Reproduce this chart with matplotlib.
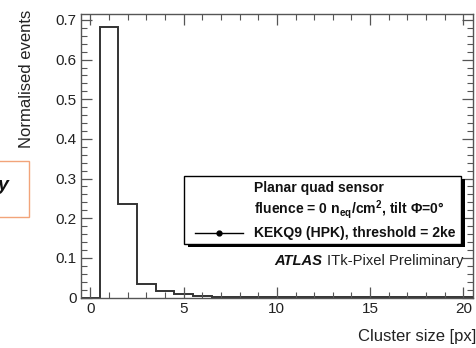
import matplotlib
matplotlib.use("Agg")
import matplotlib.pyplot as plt
import numpy as np
from matplotlib.patches import Rectangle
from matplotlib.lines import Line2D
from matplotlib.ticker import MultipleLocator

plt.rcParams["font.family"] = ["Liberation Sans", "DejaVu Sans"]
plt.rcParams["mathtext.fontset"] = "custom"
plt.rcParams["mathtext.rm"] = "Liberation Sans"
plt.rcParams["mathtext.bf"] = "Liberation Sans:bold"

# data: normalised cluster-size distribution, one bin per pixel count
cluster_size = np.arange(0, 21)
fraction = [0.0, 0.683, 0.236, 0.034, 0.016, 0.008, 0.004, 0.0025, 0.0018,
            0.0012, 0.0009, 0.0007, 0.0005, 0.0004, 0.0003, 0.0003, 0.0002,
            0.0002, 0.0001, 0.0001, 0.0001]
legend_title = "Planar quad sensor"
legend_cond = r"fluence = 0 n$_{\mathbf{eq}}$/cm$^{\mathbf{2}}$, tilt Φ=0°"
legend_entry = "KEKQ9 (HPK), threshold = 2ke"

W, H = 477, 348
fig = plt.figure(figsize=(W / 100, H / 100), dpi=100)
ax = fig.add_axes([81 / W, 1 - 297.5 / H, (472.7 - 81) / W, (297.5 - 14) / H])


def fx(px):
    return px / W


def fy(py):
    return 1 - py / H


edges = np.append(cluster_size - 0.5, cluster_size[-1] + 0.5)
ax.stairs(fraction, edges, color="#333333", linewidth=1.4, baseline=0)

ax.set_xlim(-0.5, 20.5)
ax.set_ylim(0, 0.715)
ax.xaxis.set_major_locator(MultipleLocator(5))
ax.xaxis.set_minor_locator(MultipleLocator(1))
ax.yaxis.set_major_locator(MultipleLocator(0.1))
ax.yaxis.set_minor_locator(MultipleLocator(0.02))
ax.set_xticks([0, 5, 10, 15, 20])
ax.set_xticklabels(["0", "5", "10", "15", "20"])
ax.set_yticks([0, 0.1, 0.2, 0.3, 0.4, 0.5, 0.6, 0.7])
ax.set_yticklabels(["0", "0.1", "0.2", "0.3", "0.4", "0.5", "0.6", "0.7"])
ax.tick_params(which="both", direction="in", top=True, right=True,
               color="#555555", labelsize=11, labelcolor="#222222")
ax.tick_params(which="major", length=8, width=0.9, pad=3)
ax.tick_params(which="minor", length=4, width=0.8)
for s in ax.spines.values():
    s.set_color("#555555")
    s.set_linewidth(1.0)

fig.text(fx(27), fy(10), "Normalised events", rotation=90, ha="center",
         va="top", fontsize=12, color="#222222")
fig.text(fx(476.5), fy(337), "Cluster size [px]", ha="right", va="center",
         fontsize=12, color="#222222")

# legend box with shadow
fig.patches.append(Rectangle((fx(187.5), fy(247)), fx(465 - 187.5), fy(179) - fy(247),
                             transform=fig.transFigure, facecolor="black",
                             edgecolor="none", zorder=5))
fig.patches.append(Rectangle((fx(184), fy(243.5)), fx(461.5 - 184), fy(175.5) - fy(243.5),
                             transform=fig.transFigure, facecolor="white",
                             edgecolor="black", linewidth=1.0, zorder=6))
fig.text(fx(254), fy(188), legend_title, ha="left", va="center",
         fontsize=10.1, fontweight="bold", color="#111111", zorder=7)
fig.text(fx(254), fy(210), legend_cond, ha="left", va="center",
         fontsize=10.1, fontweight="bold", color="#111111", zorder=7)
fig.text(fx(254), fy(232.5), legend_entry, ha="left", va="center",
         fontsize=10.1, fontweight="bold", color="#111111", zorder=7)
fig.lines.append(Line2D([fx(195), fx(243)], [fy(232.5), fy(232.5)],
                        transform=fig.transFigure, color="black", linewidth=1.0,
                        zorder=7))
fig.lines.append(Line2D([fx(219)], [fy(232.5)], transform=fig.transFigure,
                        color="black", marker="o", markersize=3.5, zorder=8))

fig.text(fx(322), fy(261), "ATLAS", ha="right", va="center", fontsize=10.6,
         fontweight="bold", fontstyle="italic", color="#111111", zorder=7)
fig.text(fx(463), fy(261), "ITk-Pixel Preliminary", ha="right", va="center",
         fontsize=10.6, color="#222222", zorder=7)

# cropped orange box at the left edge
fig.patches.append(Rectangle((fx(-10), fy(217)), fx(29.3 + 10), fy(161) - fy(217),
                             transform=fig.transFigure, facecolor="none",
                             edgecolor="#f2a47a", linewidth=1.0))
fig.text(fx(9), fy(186), "y", ha="right", va="center", fontsize=14,
         fontweight="bold", fontstyle="italic", color="#111111")

fig.savefig("out.png", dpi=100)
